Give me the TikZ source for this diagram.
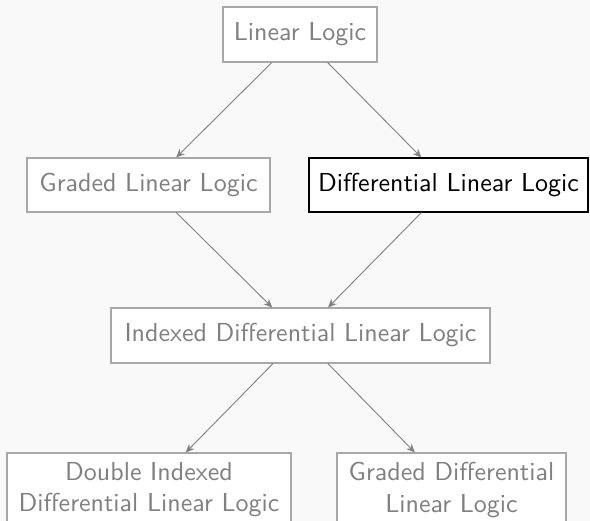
\documentclass[tikz,border=0pt]{standalone}
\usetikzlibrary{arrows.meta}
\definecolor{bgc}{HTML}{F9F9F9}
\definecolor{txtgray}{HTML}{808080}
\definecolor{bordgray}{HTML}{A8A8A8}
\begin{document}
\begin{tikzpicture}[x=0.385pt,y=-0.385pt,
  box/.style={draw=bordgray, fill=white, text=txtgray, font=\sffamily, inner sep=0pt, align=center, line width=0.4pt},
  arr/.style={draw=txtgray, line width=0.35pt, -{Stealth[length=3.3pt,width=2.9pt,inset=1.1pt]}}]
\useasboundingbox (0,0) rectangle (590,521);
\fill[bgc] (0,0) rectangle (590,521);
\begin{scope}
\clip (0,0) rectangle (590,521);
\node[box, minimum width=154*0.385pt, minimum height=55*0.385pt] (ll) at (300,34.5) {Linear Logic};
\node[box, minimum width=243*0.385pt, minimum height=54*0.385pt] (gll) at (148.5,185) {Graded Linear Logic};
\node[box, draw=black, text=black, minimum width=279*0.385pt, minimum height=54*0.385pt] (dll) at (448.5,185) {Differential Linear Logic};
\node[box, minimum width=379*0.385pt, minimum height=55*0.385pt] (idll) at (300.5,335.5) {Indexed Differential Linear Logic};
\node[box, minimum width=284*0.385pt, minimum height=74*0.385pt] (didll) at (149,490) {Double Indexed\\Differential Linear Logic};
\node[box, minimum width=229*0.385pt, minimum height=74*0.385pt] (gdll) at (451.5,490) {Graded Differential\\Linear Logic};
\draw[arr] (ll) -- (gll);
\draw[arr] (ll) -- (dll);
\draw[arr] (gll) -- (idll);
\draw[arr] (dll) -- (idll);
\draw[arr] (idll) -- (didll);
\draw[arr] (idll) -- (gdll);
\end{scope}
\end{tikzpicture}
\end{document}
